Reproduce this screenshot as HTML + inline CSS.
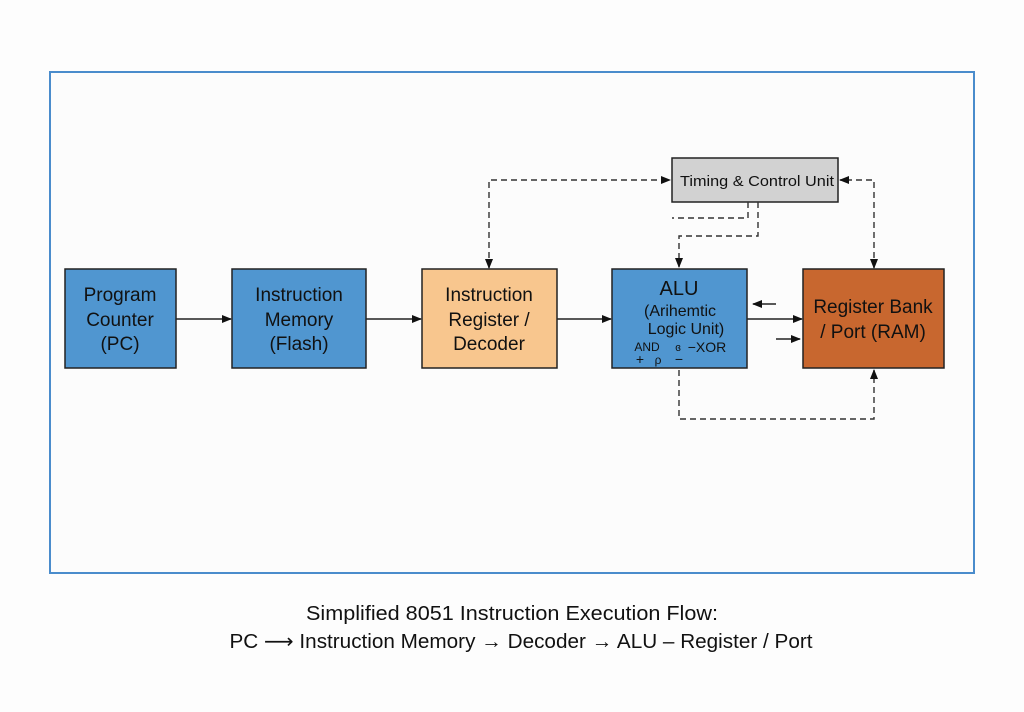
<!DOCTYPE html>
<html><head><meta charset="utf-8"><style>
html,body{margin:0;padding:0;background:#fdfdfd;}
svg{display:block;font-family:"Liberation Sans","DejaVu Sans",sans-serif;}
</style></head><body>
<svg width="1024" height="712" viewBox="0 0 1024 712" xmlns="http://www.w3.org/2000/svg">
<defs>
<marker id="a" markerWidth="10" markerHeight="10" refX="9" refY="5" orient="auto-start-reverse" markerUnits="userSpaceOnUse">
<path d="M0,1 L10,5 L0,9 z" fill="#111"/></marker>
</defs>
<rect x="50" y="72" width="924" height="501" fill="#fcfcfc" stroke="#4a8ccc" stroke-width="2"/>
<g stroke="#222" stroke-width="1.5">
<rect x="65" y="269" width="111" height="99" fill="#5096d0"/>
<rect x="232" y="269" width="134" height="99" fill="#5096d0"/>
<rect x="422" y="269" width="135" height="99" fill="#f8c68e"/>
<rect x="612" y="269" width="135" height="99" fill="#5096d0"/>
<rect x="803" y="269" width="141" height="99" fill="#c8672f"/>
<rect x="672" y="158" width="166" height="44" fill="#d2d2d2"/>
</g>
<g stroke="#222" stroke-width="1.5" fill="none">
<line x1="176" y1="319" x2="231" y2="319" marker-end="url(#a)"/>
<line x1="366" y1="319" x2="421" y2="319" marker-end="url(#a)"/>
<line x1="557" y1="319" x2="611" y2="319" marker-end="url(#a)"/>
<line x1="747" y1="319" x2="802" y2="319" marker-end="url(#a)"/>
<line x1="776" y1="304" x2="753" y2="304" marker-end="url(#a)"/>
<line x1="776" y1="339" x2="800" y2="339" marker-end="url(#a)"/>
</g>
<g stroke="#333" stroke-width="1.4" fill="none" stroke-dasharray="6,4">
<polyline points="489,268 489,180 670,180" marker-end="url(#a)" marker-start="url(#a)"/>
<polyline points="748,202 748,218 672,218"/>
<polyline points="758,202 758,236 679,236 679,267" marker-end="url(#a)"/>
<polyline points="874,268 874,180 840,180" marker-end="url(#a)" marker-start="url(#a)"/>
<polyline points="679,370 679,419 874,419 874,370" marker-end="url(#a)"/>
</g>
<g fill="#111" font-size="19" text-anchor="middle">
<text x="120" y="301">Program</text><text x="120" y="326">Counter</text><text x="120" y="350">(PC)</text>
<text x="299" y="301">Instruction</text><text x="299" y="326">Memory</text><text x="299" y="350">(Flash)</text>
<text x="489" y="301">Instruction</text><text x="489" y="326">Register /</text><text x="489" y="350">Decoder</text>
<text x="679" y="295" font-size="20">ALU</text>
<text x="680" y="316" font-size="16">(Arihemtic</text>
<text x="686" y="334" font-size="16">Logic Unit)</text>
<text x="647" y="351" font-size="12">AND</text>
<text x="678" y="351" font-size="11">ɞ</text>
<text x="707" y="352" font-size="14">−XOR</text>
<text x="640" y="364" font-size="14">+</text>
<text x="658" y="364" font-size="12">ρ</text>
<text x="679" y="364" font-size="14">−</text>
<text x="873" y="313">Register Bank</text><text x="873" y="338">/ Port (RAM)</text>
<text x="757" y="186" font-size="15" textLength="154" lengthAdjust="spacingAndGlyphs">Timing &amp; Control Unit</text>
<text x="512" y="620" font-size="20" textLength="412" lengthAdjust="spacingAndGlyphs">Simplified 8051 Instruction Execution Flow:</text>
<text x="521" y="648" font-size="20" textLength="583" lengthAdjust="spacingAndGlyphs">PC ⟶ Instruction Memory → Decoder → ALU – Register / Port</text>
</g>
</svg>
</body></html>
